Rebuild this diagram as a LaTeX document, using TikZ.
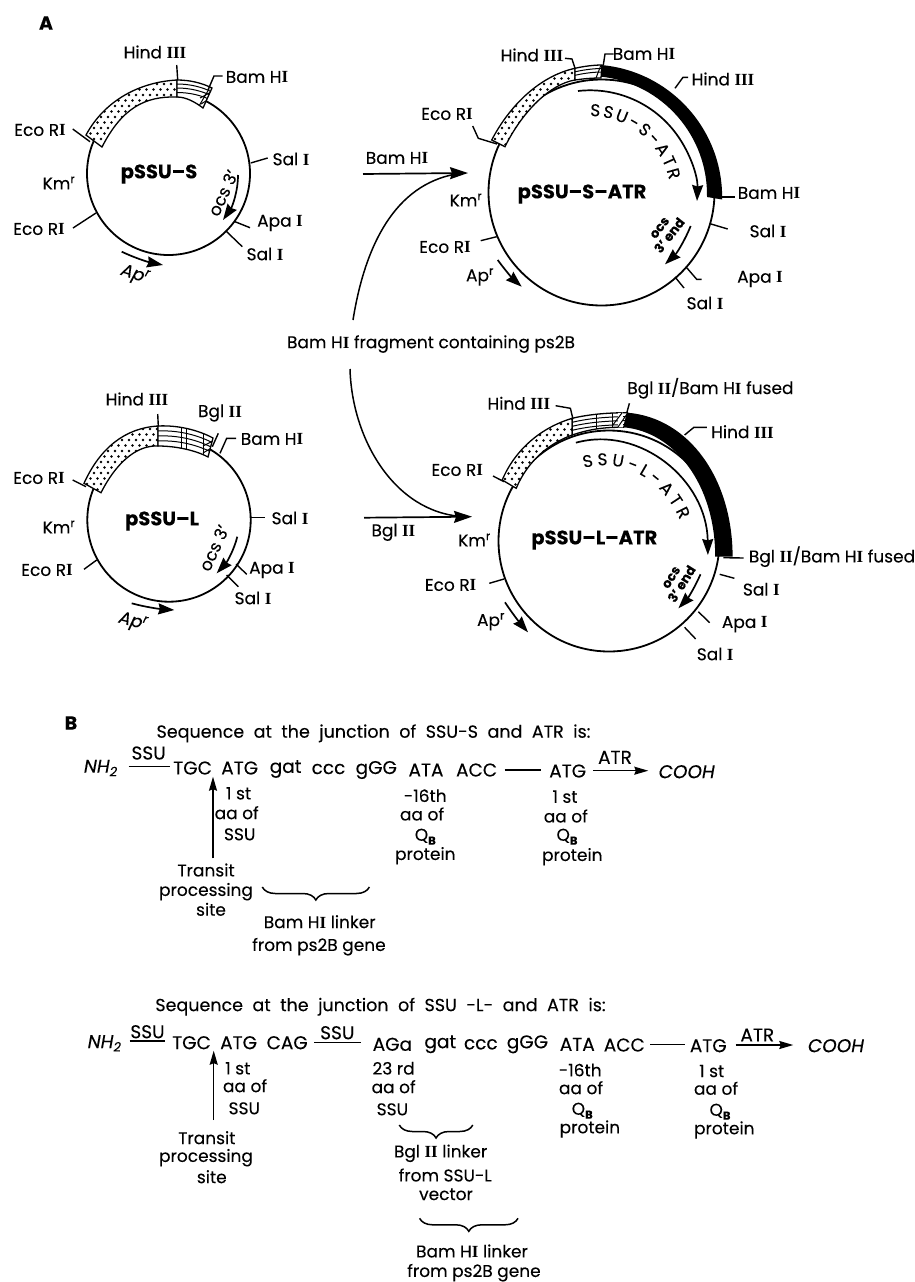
\documentclass[tikz,border=0pt]{standalone}
\usepackage{fontspec}
\setmainfont{Poppins}[FakeBold=0.12]
\newfontfamily\serifI{Liberation Serif}
\usetikzlibrary{arrows.meta,decorations.text,decorations.pathreplacing}
\newcommand{\sI}{{\serifI\bfseries I}}
\newcommand{\sII}{{\serifI\bfseries II}}
\newcommand{\sIII}{{\serifI\bfseries III}}
\newcommand{\Qb}{Q\raisebox{-4pt}{\fontsize{11.5}{11}\selectfont\bfseries B}}
\newcommand{\widesp}{\spaceskip=9.5pt\relax}
\newcommand{\tx}[4]{\node[lbl] (#1) at (#2,#3) {#4};}
\newcommand{\sq}[4]{\node[seq] (#1) at (#2,#3) {#4};}
\newcommand{\dotgrid}[4]{%
  \foreach \i in {0,...,#3}{\foreach \j in {0,...,#4}{%
    \pgfmathsetmacro{\px}{#1+\i*7+mod(\j,2)*3.5}%
    \pgfmathsetmacro{\py}{#2+\j*5.5}%
    \fill (\px,\py) circle[radius=1.45];}}}
\newcommand{\stip}[5]{\begin{scope}\clip #1; \dotgrid{#2}{#3}{#4}{#5}\end{scope}}
\tikzset{
  x=1pt,y=1pt,
  lbl/.style={inner sep=0pt,font=\fontsize{17}{18}\selectfont},
  seq/.style={inner sep=0pt,font=\fontsize{18.5}{20}\selectfont},
  ital/.style={inner sep=0pt,font=\fontsize{18.5}{20}\selectfont\itshape},
  titl/.style={inner sep=0pt,font=\fontsize{17.5}{19}\selectfont\widesp},
  apr/.style={inner sep=0pt,font=\fontsize{17.5}{19}\selectfont\itshape},
  ocs/.style={inner sep=0pt,align=center,font=\fontsize{13}{13}\selectfont\bfseries},
  bigl/.style={inner sep=0pt,font=\fontsize{19}{22}\selectfont\bfseries},
  pname/.style={inner sep=0pt,font=\fontsize{19.5}{21}\selectfont\bfseries},
  ring/.style={line width=1.8pt},
  tickl/.style={line width=1.4pt},
  band/.style={line width=1.3pt,fill=white},
  thinl/.style={line width=1pt},
  arr/.style={line width=1.7pt,-{Stealth[length=16pt,width=11pt,inset=1.5pt]}},
  bigarr/.style={line width=1.7pt,-{Stealth[length=18pt,width=12pt,inset=2pt]}},
  linkl/.style={line width=1.5pt},
  seqarr/.style={line width=1.5pt,-{Stealth[length=14pt,width=8pt,inset=1.5pt]}},
}
\begin{document}
\begin{tikzpicture}
\useasboundingbox (0,0) rectangle (915,-1282);
\fill[white] (0,0) rectangle (915,-1282);
\node[bigl] (A) at (46,-23) {A};
\node[bigl] (B) at (71,-723) {B};

% ---------- pSSU-S
\draw[ring] (168.5,-173.5) circle[radius=81.5];
\def\dt{(86,-135) .. controls (105,-100) and (140,-82) .. (177,-80) -- (177,-97) .. controls (145,-96) and (122,-108) .. (102,-147) -- cycle}
\def\st{(177,-80) .. controls (190,-80) and (202,-83) .. (212,-88) -- (203,-108) .. controls (195,-102) and (186,-97) .. (177,-97) -- cycle}
\filldraw[band] \dt; \filldraw[band] \st;
\stip{\dt}{80}{-150}{15}{14}
\begin{scope}\clip \st;
 \foreach \k in {4,8,12.5}{\draw[thinl] (177,-80-\k) .. controls (190,-80-\k) and (202,-83-\k) .. (212,-88-\k);}
 \draw[thinl] (209,-89)--(199,-106);
 \draw[thinl] (200,-98)--(211,-92) (201,-104)--(214,-96);
\end{scope}
\node[pname] (p1) at (159,-174) {pSSU--S};
\tx{h1}{155}{-52}{Hind \sIII}
\tx{b1}{257}{-77}{Bam H\sI}
\tx{e1}{40}{-130}{Eco R\sI}
\tx{k1}{59}{-183}{Km\textsuperscript{r}}
\tx{e1b}{39}{-229}{Eco R\sI}
\tx{s1}{291}{-159}{Sal \sI}
\tx{a1}{280}{-223}{Apa \sI}
\tx{s1b}{265}{-254}{Sal \sI}
\node[apr,rotate=-18] (ap1) at (135,-275) {Ap\textsuperscript{r}};
\node[lbl,rotate=65] (o1) at (223,-193) {ocs 3'};
\draw[tickl] (176.7,-65)--(177.7,-80);
\draw[tickl] (222.7,-76)--(214,-76)--(208,-90);
\draw[tickl] (72.7,-129)--(90,-141.7);
\draw[tickl] (73,-228)--(96,-213);
\draw[tickl] (250.7,-163)--(267.7,-158);
\draw[tickl] (235,-221.7)--(250,-227.7);
\draw[tickl] (226.7,-231.7)--(242.3,-246.7);
\draw[arr] (121.7,-251.7) .. controls (135,-258) and (148,-262) .. (163,-265);
\draw[arr] (238,-175) .. controls (238,-192) and (232,-207) .. (223,-220);

% ---------- pSSU-S-ATR
\draw[ring] (601.5,-192.5) circle[radius=113];
\def\dt{(491.7,-140) .. controls (510,-105) and (540,-76) .. (575,-68.3) -- (575,-80) .. controls (550,-84) and (522,-112) .. (505,-146.7) -- cycle}
\def\st{(575,-68.3) .. controls (585,-66) and (595,-65) .. (602,-65) -- (601,-78) .. controls (590,-78) and (582,-79) .. (575,-80) -- cycle}
\filldraw[band] \dt; \filldraw[band] \st;
\stip{\dt}{488}{-150}{13}{16}
\begin{scope}\clip \st;
 \foreach \k in {3.5,7}{\draw[thinl] (575,-68.3-\k) .. controls (585,-66-\k) and (595,-65-\k) .. (602,-65-\k);}
 \draw[thinl] (596,-78)--(601,-65);
\end{scope}
\fill (601,-65) arc[start angle=85,end angle=-1,radius=132.7] -- (707,-197) arc[start angle=-1,end angle=83.7,radius=119] -- cycle;
\node[pname] (p2) at (582,-194) {pSSU--S--ATR};
\tx{h2}{532}{-55}{Hind \sIII}
\tx{b2}{644}{-54}{Bam H\sI}
\tx{h2r}{723}{-79}{Hind \sIII}
\tx{e2}{447}{-114}{Eco R\sI}
\tx{bam}{397}{-158}{Bam H\sI}
\tx{k2}{466}{-200}{Km\textsuperscript{r}}
\tx{e2b}{445}{-247}{Eco R\sI}
\tx{ap2}{480}{-277}{Ap\textsuperscript{r}}
\tx{b2r}{769}{-193}{Bam H\sI}
\tx{s2}{768}{-231}{Sal \sI}
\tx{a2}{760}{-279}{Apa \sI}
\tx{s2b}{705}{-303}{Sal \sI}
\node[ocs,rotate=52] (o2) at (665,-232) {ocs\\3' end};
\draw[tickl] (565,-58.3)--(572,-59)--(575,-68.3);
\draw[tickl] (613.5,-54)--(605,-54)--(603.3,-65);
\draw[tickl] (675,-88.3)--(683,-77.3)--(688,-77.3);
\draw[tickl] (472.7,-126)--(478.3,-138.3)--(497,-144);
\draw[tickl] (480.7,-240.7)--(496.7,-236.7);
\draw[tickl] (714,-197)--(735,-197);
\draw[tickl] (711,-224)--(727.7,-229);
\draw[tickl] (686.7,-267.7)--(696.7,-279.3)--(701.7,-279.3);
\draw[tickl] (675,-277)--(684,-288);
\draw[arr] (578,-91) arc[start angle=96.5,end angle=-2,radius=107];
\path[decorate,decoration={text along path,text align={fit to path},text={|\fontsize{17}{18}\selectfont|SSU-S-ATR}}] (590,-116) arc[start angle=90,end angle=12,radius=81];
\draw[arr] (690.7,-226) .. controls (685,-240) and (677,-253) .. (665,-264.3);
\draw[arr] (497.7,-260) .. controls (505,-270) and (513,-279) .. (521.7,-286.7);
\coordinate (bs) at (363,-174);
\coordinate (bt) at (468,-173);
\draw[bigarr] (bs) -- (bt);

% ---------- fragment
\node[lbl] (frag) at (431,-344) {Bam H\sI\ fragment containing ps2B};
\coordinate (c1) at (353,-320);
\coordinate (c2) at (350,-369);
\draw[linkl] (c1) .. controls (365,-245) and (395,-185) .. (456,-174);
\draw[linkl] (c2) .. controls (352,-440) and (395,-512) .. (462,-516.5);

% ---------- pSSU-L
\draw[ring] (169,-520) circle[radius=81.7];
\def\dt{(84,-483.3) .. controls (100,-448) and (125,-428) .. (158,-426) -- (158,-446) .. controls (135,-445) and (115,-465) .. (101,-492.7) -- cycle}
\def\st{(158,-426) .. controls (178,-425) and (198,-430) .. (213,-438) -- (208,-457) .. controls (195,-450) and (175,-446) .. (158,-446) -- cycle}
\filldraw[band] \dt; \filldraw[band] \st;
\stip{\dt}{80}{-495}{13}{13}
\begin{scope}\clip \st;
 \foreach \k in {5,10,15}{\draw[thinl] (158,-426-\k) .. controls (178,-425-\k) and (198,-430-\k) .. (213,-438-\k);}
 \draw[thinl] (181,-425)--(181,-450) (186,-425)--(186,-450);
 \draw[thinl] (203,-432)--(203,-456);
 \draw[thinl] (203,-446)--(213,-441) (203,-453)--(213,-447);
\end{scope}
\node[pname] (p3) at (162,-521) {pSSU--L};
\tx{h3}{137}{-399}{Hind \sIII}
\tx{bg3}{220}{-413}{Bgl \sII}
\tx{b3}{272}{-439}{Bam H\sI}
\tx{e3}{39}{-478}{Eco R\sI}
\tx{k3}{59}{-527}{Km\textsuperscript{r}}
\tx{e3b}{47}{-570}{Eco R\sI}
\tx{s3}{290}{-518}{Sal \sI}
\tx{a3}{272}{-570}{Apa \sI}
\tx{s3b}{253}{-598}{Sal \sI}
\node[apr,rotate=-15] (ap3) at (133,-622) {Ap\textsuperscript{r}};
\node[lbl,rotate=65] (o3) at (214,-548) {ocs 3'};
\draw[tickl] (157.7,-414)--(158.3,-426);
\draw[tickl] (218.3,-433.3)--(212.3,-446.7);
\draw[tickl] (236,-438.3)--(226.7,-438.3)--(220,-453.3);
\draw[tickl] (72.7,-480)--(86,-486.7);
\draw[tickl] (84,-569.3)--(96.7,-560);
\draw[tickl] (250.7,-517.3)--(265,-517.3);
\draw[tickl] (236,-564)--(246.7,-574.3);
\draw[tickl] (226.7,-575)--(238.3,-586.7);
\draw[arr] (131.7,-603.3) .. controls (145,-607) and (160,-609) .. (174.3,-610);
\draw[arr] (237.3,-536.7) .. controls (234,-550) and (227,-562) .. (216.7,-573.3);

% ---------- pSSU-L-ATR
\draw[ring] (609,-541) circle[radius=110.5];
\def\dt{(502.2,-480) .. controls (515,-450) and (540,-428) .. (572.2,-418.3) -- (572.2,-435) .. controls (550,-443) and (528,-460) .. (516.2,-488.3) -- cycle}
\def\st{(572.2,-418.3) .. controls (590,-414) and (610,-412.7) .. (627.5,-412.7) -- (623.8,-427.3) .. controls (605,-427) and (590,-429) .. (572.2,-435) -- cycle}
\filldraw[band] \dt; \filldraw[band] \st;
\stip{\dt}{498}{-490}{12}{14}
\begin{scope}\clip \st;
 \foreach \k in {4,8,12}{\draw[thinl] (572.2,-418.3-\k) .. controls (590,-414-\k) and (610,-412.7-\k) .. (627.5,-412.7-\k);}
 \draw[thinl] (596.2,-410)--(596.2,-432) (612.8,-410)--(612.8,-432);
 \draw[white,line width=5pt] (620,-410)--(620,-430);
 \draw[thinl] (612.8,-425)--(622,-413) (618,-427)--(627,-414);
\end{scope}
\fill (627.5,-412.7) .. controls (690,-418) and (732.6,-480) .. (732.6,-556.7) -- (715.2,-556.7) .. controls (715.2,-485) and (675,-432) .. (623.8,-427.3) -- cycle;
\node[pname] (p4) at (594.3,-540) {pSSU--L--ATR};
\tx{h4}{518.8}{-403.3}{Hind \sIII}
\tx{bf4}{710.4}{-388.3}{Bgl \sII/Bam H\sI\ fused}
\tx{h4r}{742.5}{-431.7}{Hind \sIII}
\tx{e4}{457.2}{-470}{Eco R\sI}
\tx{bgl}{393.4}{-532.3}{Bgl \sII}
\tx{k4}{474.5}{-540}{Km\textsuperscript{r}}
\tx{e4b}{450.6}{-585}{Eco R\sI}
\tx{ap4}{491}{-621.7}{Ap\textsuperscript{r}}
\tx{bf4r}{832}{-556.7}{Bgl \sII/Bam H\sI\ fused}
\tx{s4}{761.3}{-589.3}{Sal \sI}
\tx{a4}{744.7}{-624.3}{Apa \sI}
\tx{s4b}{715.2}{-654}{Sal \sI}
\node[ocs,rotate=58] (o4) at (677,-581) {ocs\\3' end};
\draw[tickl] (555.6,-405.7)--(570.4,-408.3)--(573,-419.3);
\draw[tickl] (629.4,-403.3)--(626.8,-412.7);
\draw[tickl] (706.8,-427.3)--(693.9,-427.3)--(684.6,-435);
\draw[tickl] (493,-476)--(504,-481.7);
\draw[tickl] (489.3,-583.3)--(504,-579);
\draw[tickl] (723.3,-557.7)--(743.6,-558);
\draw[tickl] (719.7,-574.3)--(734.4,-578.3);
\draw[tickl] (698.3,-611.7)--(709.7,-622.7);
\draw[tickl] (684.6,-627.3)--(695.7,-639);
\draw[arr] (575.9,-442.7) .. controls (640,-425) and (707,-480) .. (707.9,-555);
\path[decorate,decoration={text along path,text align={fit to path},text={|\fontsize{17}{18}\selectfont|SSU-L-ATR}}] (584,-468) .. controls (620,-458) and (660,-475) .. (680,-520);
\draw[arr] (700.5,-574.3) .. controls (695,-587) and (688,-598) .. (678.4,-608.3);
\draw[arr] (505,-602.3) .. controls (512,-613) and (520,-623) .. (528,-632.3);
\coordinate (gs) at (364,-517.7);
\coordinate (gt) at (472,-516.7);
\draw[bigarr] (gs) -- (gt);

% ---------- B first sequence
\node[titl] (t5) at (373.5,-733.3) {Sequence at the junction of SSU-S and ATR is:};
\node[ital] (nh5) at (100.8,-768) {NH\textsubscript{2}};
\sq{su5}{148.6}{-753}{SSU}
\coordinate (l5a) at (128.7,-766.7); \coordinate (l5b) at (169.7,-766.7);
\draw[linkl] (l5a)--(l5b);
\sq{q51}{192.6}{-768}{TGC}
\sq{q52}{239.7}{-768}{ATG}
\sq{q53}{285.6}{-769}{gat}
\sq{q54}{328.5}{-769}{ccc}
\sq{q55}{376.3}{-770}{gGG}
\sq{q56}{426}{-770}{ATA}
\sq{q57}{476.6}{-770}{ACC}
\coordinate (m5a) at (504.5,-770); \coordinate (m5b) at (540.9,-770);
\draw[linkl] (m5a)--(m5b);
\sq{q58}{567.7}{-771}{ATG}
\sq{at5}{615}{-757.3}{ATR}
\coordinate (r5a) at (593.3,-770.7); \coordinate (r5b) at (648.3,-770.7);
\draw[seqarr] (r5a)--(r5b);
\node[ital] (co5) at (686.7,-771.7) {COOH};
\coordinate (u5a) at (213,-858.3); \coordinate (u5b) at (213,-776.7);
\draw[seqarr] (u5a)--(u5b);
\tx{a51}{238.6}{-793.3}{1 st}
\tx{a52}{236.7}{-812.7}{aa of}
\tx{a53}{239.7}{-834.3}{SSU}
\tx{tr5}{206}{-870}{Transit}
\tx{pr5}{206}{-891.7}{processing}
\tx{si5}{211}{-909.3}{site}
\coordinate (br5a) at (262.3,-887); \coordinate (br5b) at (369.4,-887);
\draw[linkl,decorate,decoration={brace,mirror,amplitude=13pt}] (br5a)--(br5b);
\tx{bl5}{319.7}{-921.7}{Bam H\sI\ linker}
\tx{fr5}{319}{-946.7}{from ps2B gene}
\tx{c51}{425.3}{-795.7}{-16th}
\tx{c52}{422}{-814}{aa of}
\tx{c53}{425.3}{-836.7}{\Qb}
\tx{c54}{425.3}{-855.7}{protein}
\tx{d51}{565}{-796.7}{1 st}
\tx{d52}{565.8}{-816}{aa of}
\tx{d53}{567}{-836.7}{\Qb}
\tx{d54}{572.3}{-856.7}{protein}

% ---------- B second sequence
\node[titl] (t6) at (380.5,-1006.7) {Sequence at the junction of SSU -L- and ATR is:};
\node[ital] (nh6) at (104.6,-1043.3) {NH\textsubscript{2}};
\sq{su6}{147.5}{-1031.7}{SSU}
\coordinate (l6a) at (129.5,-1041); \coordinate (l6b) at (165,-1041);
\draw[linkl] (l6a)--(l6b);
\sq{q61}{191.5}{-1042.7}{TGC}
\sq{q62}{238.6}{-1042.7}{ATG}
\sq{q63}{287.2}{-1042.7}{CAG}
\sq{su62}{337.3}{-1032.7}{SSU}
\coordinate (n6a) at (314,-1042.3); \coordinate (n6b) at (361,-1042.3);
\draw[linkl] (n6a)--(n6b);
\sq{q64}{392.4}{-1044.3}{AGa}
\sq{q65}{440.3}{-1044.3}{gat}
\sq{q66}{480.8}{-1044.3}{ccc}
\sq{q67}{527.5}{-1044.3}{gGG}
\sq{q68}{577.3}{-1044.3}{ATA}
\sq{q69}{624.3}{-1045}{ACC}
\coordinate (m6a) at (650,-1044.3); \coordinate (m6b) at (685,-1044.3);
\draw[linkl] (m6a)--(m6b);
\sq{q60}{708.3}{-1045.7}{ATG}
\sq{at6}{757.3}{-1035}{ATR}
\coordinate (r6a) at (735.7,-1045); \coordinate (r6b) at (793.3,-1045);
\draw[seqarr] (r6a)--(r6b);
\node[ital] (co6) at (836,-1045.7) {COOH};
\coordinate (u6a) at (213.7,-1120); \coordinate (u6b) at (213.7,-1050.7);
\draw[seqarr] (u6a)--(u6b);
\tx{a61}{237.8}{-1068.3}{1 st}
\tx{a62}{245}{-1085.7}{aa of}
\tx{a63}{244.3}{-1108.3}{SSU}
\tx{tr6}{206.8}{-1137.7}{Transit}
\tx{pr6}{206}{-1157.7}{processing}
\tx{si6}{211.8}{-1176.7}{site}
\tx{b61}{393.6}{-1068.3}{23 rd}
\tx{b62}{393.6}{-1086.7}{aa of}
\tx{b63}{392.4}{-1109.3}{SSU}
\coordinate (br6a) at (399.3,-1125); \coordinate (br6b) at (472.8,-1125);
\draw[linkl,decorate,decoration={brace,mirror,amplitude=13pt}] (br6a)--(br6b);
\tx{bg6}{440.6}{-1153.3}{Bgl \sII\ linker}
\tx{fs6}{445.2}{-1175}{from SSU-L}
\tx{ve6}{446}{-1194.3}{vector}
\coordinate (bq6a) at (419.6,-1218.3); \coordinate (bq6b) at (518,-1218.3);
\draw[linkl,decorate,decoration={brace,mirror,amplitude=13pt}] (bq6a)--(bq6b);
\tx{bl6}{472}{-1251}{Bam H\sI\ linker}
\tx{fr6}{474}{-1272.7}{from ps2B gene}
\tx{c61}{580.3}{-1070}{-16th}
\tx{c62}{581}{-1087.7}{aa of}
\tx{c63}{582.2}{-1110.7}{\Qb}
\tx{c64}{589.9}{-1129}{protein}
\tx{d61}{711.7}{-1071}{1 st}
\tx{d62}{716}{-1088.3}{aa of}
\tx{d63}{720}{-1111.7}{\Qb}
\tx{d64}{724.3}{-1130}{protein}
\end{tikzpicture}
\end{document}
